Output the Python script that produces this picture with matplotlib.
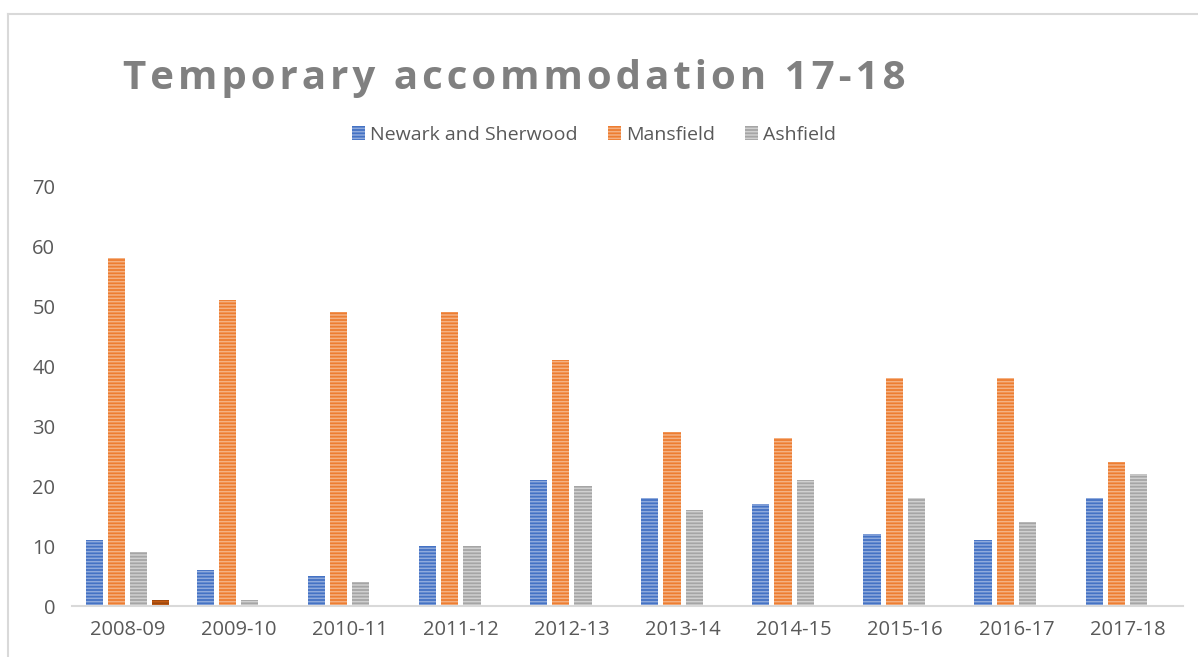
import numpy as np
import matplotlib
matplotlib.use("Agg")
import matplotlib.pyplot as plt
from matplotlib.lines import Line2D
from matplotlib.patches import Patch

years = ["2008-09", "2009-10", "2010-11", "2011-12", "2012-13",
         "2013-14", "2014-15", "2015-16", "2016-17", "2017-18"]
newark = [11, 6, 5, 10, 21, 18, 17, 12, 11, 18]
mansfield = [58, 51, 49, 49, 41, 29, 28, 38, 38, 24]
ashfield = [9, 1, 4, 10, 20, 16, 21, 18, 14, 22]
other = [1, 0, 0, 0, 0, 0, 0, 0, 0, 0]   # unnamed 4th series, not in legend

names = ["Newark and Sherwood", "Mansfield", "Ashfield", None]
colors = ["#4472C4", "#ED7D31", "#A5A5A5", "#9E480E"]
stripes = ["#8FAADC", "#F4B183", "#D0D0D0", "#C55A11"]

plt.rcParams["font.family"] = ["Open Sans", "DejaVu Sans"]
plt.rcParams["hatch.linewidth"] = 1.1

fig = plt.figure(figsize=(11.98, 6.57), dpi=100)
ax = fig.add_axes([72 / 1198, 1 - 606 / 657, (1183 - 72) / 1198, (606 - 186) / 657])

x = np.arange(len(years))
offsets = [-0.3, -0.1, 0.1, 0.3]
series = [newark, mansfield, ashfield, other]
for vals, off, c, sc in zip(series, offsets, colors, stripes):
    ax.bar(x + off, vals, width=0.155, color=c, edgecolor=sc, linewidth=0,
           hatch="-----", zorder=2)

ax.set_xlim(-0.5, 9.5)
ax.set_ylim(0, 70)
ax.set_yticks(range(0, 71, 10))
ax.set_xticks(x)
ax.set_xticklabels(years)
ax.tick_params(length=0, labelsize=14.5, colors="#595959")
ax.tick_params(axis="y", pad=12)
ax.tick_params(axis="x", pad=10)
for s in ["top", "right", "left"]:
    ax.spines[s].set_visible(False)
ax.spines["bottom"].set_color("#D9D9D9")
ax.spines["bottom"].set_linewidth(1.5)

handles = [Patch(facecolor=c, edgecolor=sc, linewidth=0, hatch="-----")
           for c, sc in zip(colors[:3], stripes[:3])]
fig.legend(handles, names[:3], loc="center", bbox_to_anchor=(0.496, 1 - 135 / 657),
           ncol=3, frameon=False, fontsize=14, labelcolor="#595959",
           handlelength=0.65, handleheight=0.7, handletextpad=0.28, columnspacing=1.55)

title = "Temporary accommodation 17-18"
fig.text(0.429, 1 - 78 / 657, "\u200a".join(title), ha="center", va="center",
         fontsize=29, fontweight="bold", color="#808080")

# chart border
fig.add_artist(Line2D([8 / 1198, 8 / 1198], [0, 1 - 14 / 657], color="#D9D9D9", lw=1.5))
fig.add_artist(Line2D([8 / 1198, 1], [1 - 14 / 657, 1 - 14 / 657], color="#D9D9D9", lw=1.5))

fig.savefig("out.png", dpi=100)
